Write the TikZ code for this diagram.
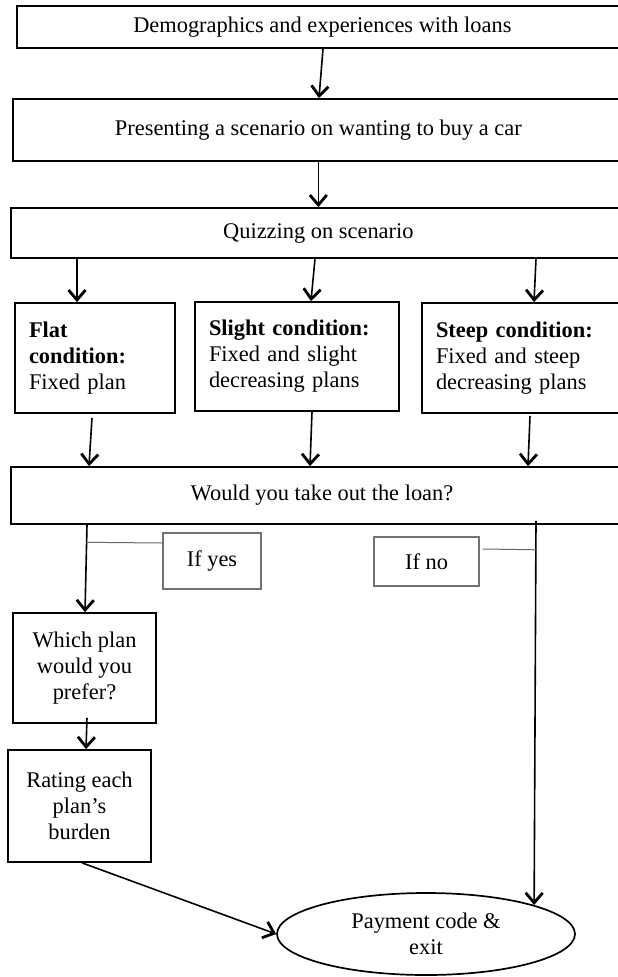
\documentclass[tikz,border=0pt]{standalone}
\usepackage{fontspec}
\setmainfont{Liberation Serif}
\usetikzlibrary{arrows.meta,shapes.geometric,calc}
\begin{document}
\begin{tikzpicture}[x=1pt,y=-1pt,
  every node/.style={font=\fontsize{22.4}{26}\selectfont},
  box/.style={draw, line width=1.7pt, rectangle, inner sep=0pt, align=center},
  cond/.style={draw, line width=1.7pt, rectangle, inner xsep=14pt, inner ysep=0pt, align=left},
  lbl/.style={draw=black!55, line width=1.1pt, rectangle, inner sep=0pt},
  arr/.style={line width=1.6pt, -{Straight Barb[length=10pt,width=17pt,line width=2.8pt]}},
  thinline/.style={line width=1pt, draw=black!60}]
\useasboundingbox (0,0) rectangle (618,977);

\node[box, minimum width=611.3pt, minimum height=42pt] (b1) at (322.35,27) {Demographics and experiences with loans};
\node[box, minimum width=611.3pt, minimum height=62pt] (b2) at (318.35,130) {Presenting a scenario on wanting to buy a car};
\node[box, minimum width=615.3pt, minimum height=50pt] (b3) at (318.35,233) {Quizzing on scenario};

\node[cond, text width=132pt, minimum height=110pt] (flat) at (95,358) {\textbf{Flat}\\\textbf{condition:}\\Fixed plan};
\node[cond, text width=176pt, minimum height=109pt] (slight) at (297,356.5) {\textbf{Slight condition:}\\Fixed and slight\\decreasing plans};
\node[cond, text width=182pt, minimum height=110pt] (steep) at (527,358) {\textbf{Steep condition:}\\Fixed and steep\\decreasing plans};

\node[box, minimum width=622pt, minimum height=57pt] (loan) at (322,495.5) {Would you take out the loan?};
\node[lbl, minimum width=98pt, minimum height=56pt] (yes) at (212,561) {If yes};
\node[lbl, minimum width=105pt, minimum height=49pt] (no) at (426.5,561.5) {If no};

\node[box, minimum width=143pt, minimum height=110pt] (which) at (84.5,668) {Which plan\\would you\\prefer?};
\node[box, minimum width=143pt, minimum height=112pt] (rate) at (79.5,806) {Rating each\\plan’s\\burden};
\node[ellipse, draw, line width=1.7pt, minimum width=298pt, minimum height=82pt, inner sep=0pt, align=center] (pay) at (426,934) {Payment code \&\\exit};

% top chain
\draw[arr] ([xshift=0.65pt]b1.south) -- ([xshift=0.65pt]b2.north);
\draw[arr] (b2.south) -- (b3.north);
% to conditions
\draw[arr] ([xshift=-241.35pt]b3.south) -- ([xshift=-18pt]flat.north);
\draw[arr] ([xshift=-3.35pt]b3.south) -- ([xshift=14pt]slight.north);
\draw[arr] ([xshift=217.65pt]b3.south) -- ([xshift=7pt]steep.north);
% conditions to loan
\draw[arr] ([xshift=-3pt,yshift=-4pt]flat.south) -- ([xshift=-233pt]loan.north);
\draw[arr] ([xshift=15pt]slight.south) -- ([xshift=-12pt]loan.north);
\draw[arr] ([xshift=3pt,yshift=-2pt]steep.south) -- ([xshift=206pt]loan.north);
% yes branch
\coordinate (y0) at ([xshift=-235pt]loan.south);
\coordinate (y1) at ([xshift=0.5pt]which.north);
\draw[arr] (y0) -- (y1);
\draw[thinline] ($(y0)!0.2!(y1)$) -- ([yshift=18pt]yes.west);
% no branch
\coordinate (n0) at ([xshift=214pt,yshift=4pt]loan.south);
\draw[arr] (n0) -- (pay.15.3);
\draw[thinline] ([yshift=12.5pt,xshift=3pt]no.east) -- ($(n0)!0.0753!(pay.15.3)$);
% bottom
\draw[arr] ([xshift=2.5pt,yshift=6pt]which.south) -- ([xshift=6.5pt]rate.north);
\draw[arr] ([xshift=2.5pt]rate.south) -- (pay.west);
\end{tikzpicture}
\end{document}
